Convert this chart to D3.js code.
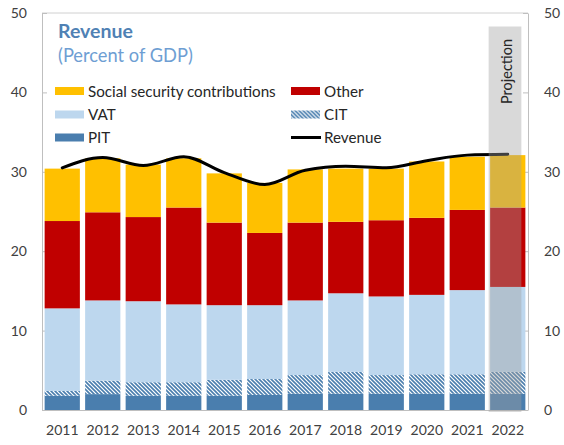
<!DOCTYPE html>
<html>
<head>
<meta charset="utf-8">
<script src="https://cdn.jsdelivr.net/npm/d3@7"></script>
<style>
  html, body { margin: 0; padding: 0; background: #fff; }
  svg { display: block; font-family: Lato, "Liberation Sans", sans-serif; }
</style>
</head>
<body>
<svg id="chart" width="564" height="445"></svg>
<script>
// Revenue composition, percent of GDP
const years   = ["2011","2012","2013","2014","2015","2016","2017","2018","2019","2020","2021","2022"];
const pit     = [1.8, 2.0, 1.8, 1.8, 1.8, 1.9, 2.05, 2.05, 2.05, 2.05, 2.05, 2.05];
const cit     = [0.6, 1.7, 1.7, 1.7, 2.0, 2.0, 2.35, 2.75, 2.35, 2.45, 2.45, 2.75];
const vat     = [10.4, 10.1, 10.2, 9.8, 9.4, 9.3, 9.4, 9.9, 9.9, 10.0, 10.6, 10.7];
const other   = [11.0, 11.1, 10.6, 12.2, 10.4, 9.1, 9.8, 9.0, 9.6, 9.7, 10.1, 10.0];
const ssc     = [6.6, 6.8, 6.6, 6.2, 6.2, 6.3, 6.7, 6.7, 6.5, 7.1, 6.7, 6.6];
const revenue = [30.5, 31.8, 30.8, 31.9, 29.9, 28.4, 30.2, 30.7, 30.5, 31.4, 32.1, 32.2];
const yTicks  = [0, 10, 20, 30, 40, 50];
const projectionYear = "2022";
const projectionTop = 48.3;

const keys = ["PIT", "CIT", "VAT", "Other", "SSC"];
const colors = { PIT: "#4A7EAE", CIT: "url(#hatch)", VAT: "#BDD7EE", Other: "#C00000", SSC: "#FFC000" };
const rows = years.map((yr, i) => ({ year: yr, PIT: pit[i], CIT: cit[i], VAT: vat[i], Other: other[i], SSC: ssc[i], revenue: revenue[i] }));

const svg = d3.select("#chart");
const plotLeft = 42, plotRight = 528, plotTop = 13, plotBottom = 410;

const x = d3.scaleBand().domain(years).range([plotLeft, plotRight]).paddingInner(0.13).paddingOuter(0.065);
const y = d3.scaleLinear().domain([0, 50]).range([plotBottom, plotTop]);

// diagonal hatch for CIT
const defs = svg.append("defs");
const pat = defs.append("pattern").attr("id", "hatch").attr("patternUnits", "userSpaceOnUse")
  .attr("width", 4).attr("height", 4);
pat.append("rect").attr("width", 4).attr("height", 4).attr("fill", "#fff");
pat.append("path").attr("d", "M-1,-1 L5,5 M-1,3 L1,5 M3,-1 L5,1")
  .attr("stroke", "#4A7EAE").attr("stroke-width", 1.6);

// frame: top border and axes
svg.append("line").attr("x1", plotLeft).attr("x2", plotRight).attr("y1", plotTop).attr("y2", plotTop)
  .attr("stroke", "#D0D0D0").attr("stroke-width", 1);

const axisColor = "#BFBFBF", textColor = "#404040";

const yl = svg.append("g").attr("transform", `translate(${plotLeft},0)`)
  .call(d3.axisLeft(y).tickValues(yTicks).tickSize(-5).tickPadding(15).tickSizeOuter(0));
const yr = svg.append("g").attr("transform", `translate(${plotRight},0)`)
  .call(d3.axisRight(y).tickValues(yTicks).tickSize(-5).tickPadding(16).tickSizeOuter(0));
[yl, yr].forEach(g => {
  g.select(".domain").attr("stroke", axisColor);
  g.selectAll(".tick line").attr("stroke", axisColor);
  g.selectAll(".tick text").attr("fill", textColor).attr("font-size", 14).attr("font-family", "Lato, sans-serif");
});

// stacked bars
const stacked = d3.stack().keys(keys)(rows);
svg.append("g").selectAll("g").data(stacked).join("g")
  .attr("fill", d => colors[d.key])
  .selectAll("rect").data(d => d).join("rect")
  .attr("x", d => x(d.data.year))
  .attr("width", x.bandwidth())
  .attr("y", d => y(d[1]))
  .attr("height", d => y(d[0]) - y(d[1]));

// x axis
const xa = svg.append("g").attr("transform", `translate(0,${plotBottom})`)
  .call(d3.axisBottom(x).tickSize(0).tickPadding(15));
xa.select(".domain").attr("stroke", axisColor).attr("d", `M${plotLeft},0.5H${plotRight}`);
xa.selectAll(".tick text").attr("fill", textColor).attr("font-size", 14).attr("font-family", "Lato, sans-serif");

// revenue line
const line = d3.line()
  .x(d => x(d.year) + x.bandwidth() / 2)
  .y(d => y(d.revenue))
  .curve(d3.curveMonotoneX);
svg.append("path").datum(rows).attr("d", line)
  .attr("fill", "none").attr("stroke", "#000").attr("stroke-width", 3).attr("stroke-linecap", "round");

// projection shading
const px = x(projectionYear);
svg.append("rect")
  .attr("x", px - 1.5).attr("width", x.bandwidth() - 2.5)
  .attr("y", y(projectionTop)).attr("height", y(0) + 2 - y(projectionTop))
  .attr("fill", "#A0A0A0").attr("opacity", 0.4);
svg.append("text")
  .attr("transform", `translate(${px + x.bandwidth() / 2 + 4},${y(projectionTop) + 45}) rotate(-90)`)
  .attr("text-anchor", "middle").attr("fill", "#262626").attr("font-size", 14.5)
  .text("Projection");

// title
svg.append("text").attr("x", 58).attr("y", 38).attr("fill", "#4F81B4")
  .attr("font-size", 19.5).attr("font-weight", "bold").text("Revenue");
svg.append("text").attr("x", 58).attr("y", 62).attr("fill", "#6E9ED3")
  .attr("font-size", 18.3).text("(Percent of GDP)");

// legend
const legendItems = [
  { label: "Social security contributions", key: "SSC", col: 0, row: 0 },
  { label: "VAT", key: "VAT", col: 0, row: 1 },
  { label: "PIT", key: "PIT", col: 0, row: 2 },
  { label: "Other", key: "Other", col: 1, row: 0 },
  { label: "CIT", key: "CIT", col: 1, row: 1 },
  { label: "Revenue", key: "line", col: 1, row: 2 }
];
const colX = [55, 291], rowY = [91, 114.5, 137.5];
const lg = svg.append("g").selectAll("g").data(legendItems).join("g")
  .attr("transform", d => `translate(${colX[d.col]},${rowY[d.row]})`);
lg.filter(d => d.key !== "line").append("rect")
  .attr("x", 0).attr("y", -4).attr("width", 29).attr("height", 8)
  .attr("fill", d => colors[d.key]);
lg.filter(d => d.key === "line").append("line")
  .attr("x1", 0).attr("x2", 30).attr("y1", 0).attr("y2", 0)
  .attr("stroke", "#000").attr("stroke-width", 3);
lg.append("text").attr("x", 33).attr("y", 5.5).attr("fill", "#262626").attr("font-size", 15.2)
  .text(d => d.label);
</script>
</body>
</html>
